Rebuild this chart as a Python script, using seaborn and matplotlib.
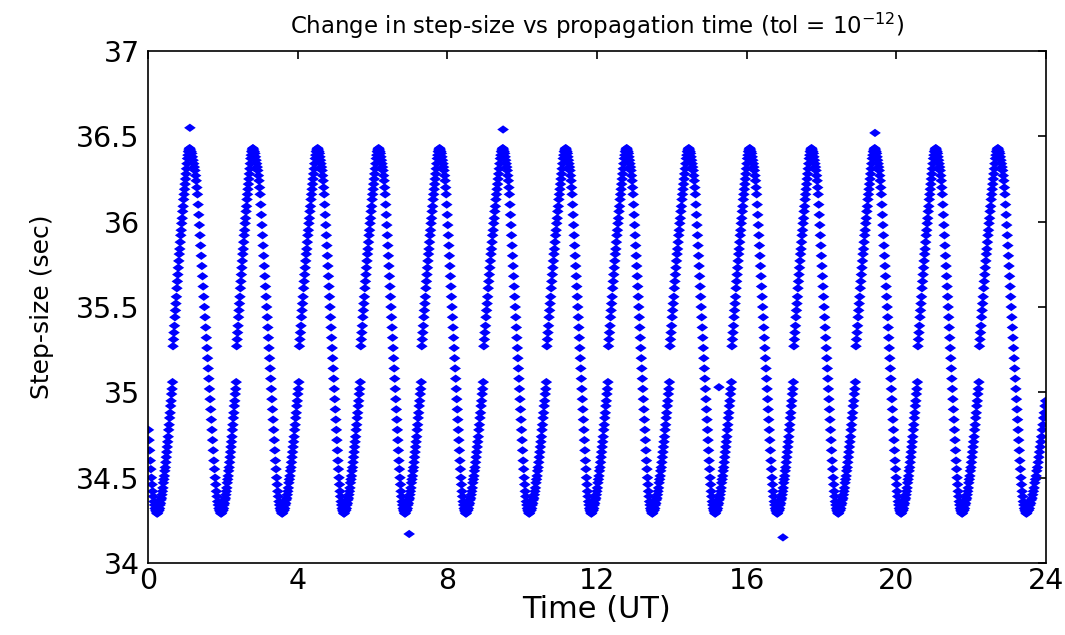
import numpy as np
import pandas as pd
import matplotlib
matplotlib.use("Agg")
import matplotlib.pyplot as plt
import seaborn as sns

# ---- data ----
# one rising branch of the step-size oscillation (trough -> peak), seconds
rise_profile = [34.30, 34.31, 34.31, 34.32, 34.34, 34.35, 34.37, 34.38, 34.40, 34.42,
                34.44, 34.47, 34.49, 34.51, 34.54, 34.56, 34.59, 34.62, 34.65, 34.68,
                34.71, 34.74, 34.78, 34.81, 34.85, 34.88, 34.92, 34.95, 34.99, 35.02,
                35.06, 35.27, 35.31, 35.35, 35.39, 35.44, 35.48, 35.52, 35.56, 35.61,
                35.65, 35.69, 35.73, 35.77, 35.81, 35.84, 35.88, 35.92, 35.95, 35.99,
                36.02, 36.06, 36.09, 36.13, 36.16, 36.19, 36.22, 36.25, 36.28, 36.31,
                36.34, 36.37, 36.39, 36.41, 36.42, 36.43]
# one falling branch (peak -> trough), seconds
fall_profile = [36.43, 36.42, 36.41, 36.40, 36.38, 36.36, 36.34, 36.32, 36.30, 36.27,
                36.24, 36.20, 36.16, 36.10, 36.04, 35.98, 35.92,
                35.86, 35.80, 35.74, 35.68, 35.62, 35.56, 35.50, 35.44, 35.38, 35.32,
                35.26, 35.20, 35.14, 35.08, 35.02, 34.96, 34.90, 34.84, 34.78, 34.72,
                34.66, 34.60, 34.55, 34.50, 34.46, 34.42, 34.39, 34.36, 34.34, 34.32,
                34.31, 34.30, 34.29, 34.29]
# times (UT hours) of the peaks and troughs
peak_times = [-0.55, 1.12, 2.81, 4.54, 6.17, 7.80, 9.49, 11.17, 12.80, 14.46,
              16.09, 17.74, 19.43, 21.06, 22.72, 24.70]
trough_times = [0.27, 1.98, 3.61, 5.26, 6.89, 8.52, 10.21, 11.87, 13.50, 15.18,
                16.84, 18.47, 20.15, 21.78, 23.50]
# isolated points
outlier_times = [1.12, 9.49, 19.43, 6.98, 16.97, 15.26]
outlier_vals = [36.55, 36.54, 36.52, 34.17, 34.15, 35.03]

xticks = [0, 4, 8, 12, 16, 20, 24]
yticks = [34, 34.5, 35, 35.5, 36, 36.5, 37]
ytick_labels = ["34", "34.5", "35", "35.5", "36", "36.5", "37"]

# ---- assemble points: place each branch between its read-off extremes ----
ts, vs = [], []
for i, tr in enumerate(trough_times):
    p0, p1 = peak_times[i], peak_times[i + 1]
    nf = len(fall_profile)
    for k, v in enumerate(fall_profile):
        ts.append(p0 + (tr - p0) * k / nf)
        vs.append(v)
    nr = len(rise_profile)
    for k, v in enumerate(rise_profile):
        ts.append(tr + (p1 - tr) * k / nr)
        vs.append(v)
ts += outlier_times
vs += outlier_vals
df = pd.DataFrame({"t": ts, "v": vs})
df = df[(df.t >= 0) & (df.t <= 24)]

# ---- plot ----
sns.set_style("white")
plt.rcParams["font.family"] = ["DejaVu Sans"]
plt.rcParams["text.color"] = "black"
plt.rcParams["axes.labelcolor"] = "black"

fig = plt.figure(figsize=(10.65, 6.35), dpi=100)
ax = fig.add_axes([148 / 1065, 1 - 563 / 635, (1046 - 148) / 1065, (563 - 51) / 635])

wide_diamond = [(-1.4, 0), (0, 1), (1.4, 0), (0, -1), (-1.4, 0)]
sns.scatterplot(data=df, x="t", y="v", ax=ax, marker=wide_diamond, s=70,
                color="#0000ff", edgecolor="none", linewidth=0)

ax.set_xlim(0, 24)
ax.set_ylim(34, 37)
ax.set_xticks(xticks)
ax.set_yticks(yticks)
ax.set_yticklabels(ytick_labels)
ax.tick_params(direction="in", length=6, width=1.2, labelsize=20.5,
               top=True, right=True, colors="black")
ax.tick_params(axis="y", pad=6)
ax.tick_params(axis="x", pad=3)
for sp in ax.spines.values():
    sp.set_color("black")
    sp.set_linewidth(1.2)

ax.set_xlabel("Time (UT)", fontsize=22, labelpad=0, color="black")
ax.set_ylabel("Step-size (sec)", fontsize=18, labelpad=16, color="black")
ax.set_title(r"Change in step-size vs propagation time (tol = 10$^{-12}$)",
             fontsize=16.5, pad=12, color="black")

fig.savefig("out.png", dpi=100)
